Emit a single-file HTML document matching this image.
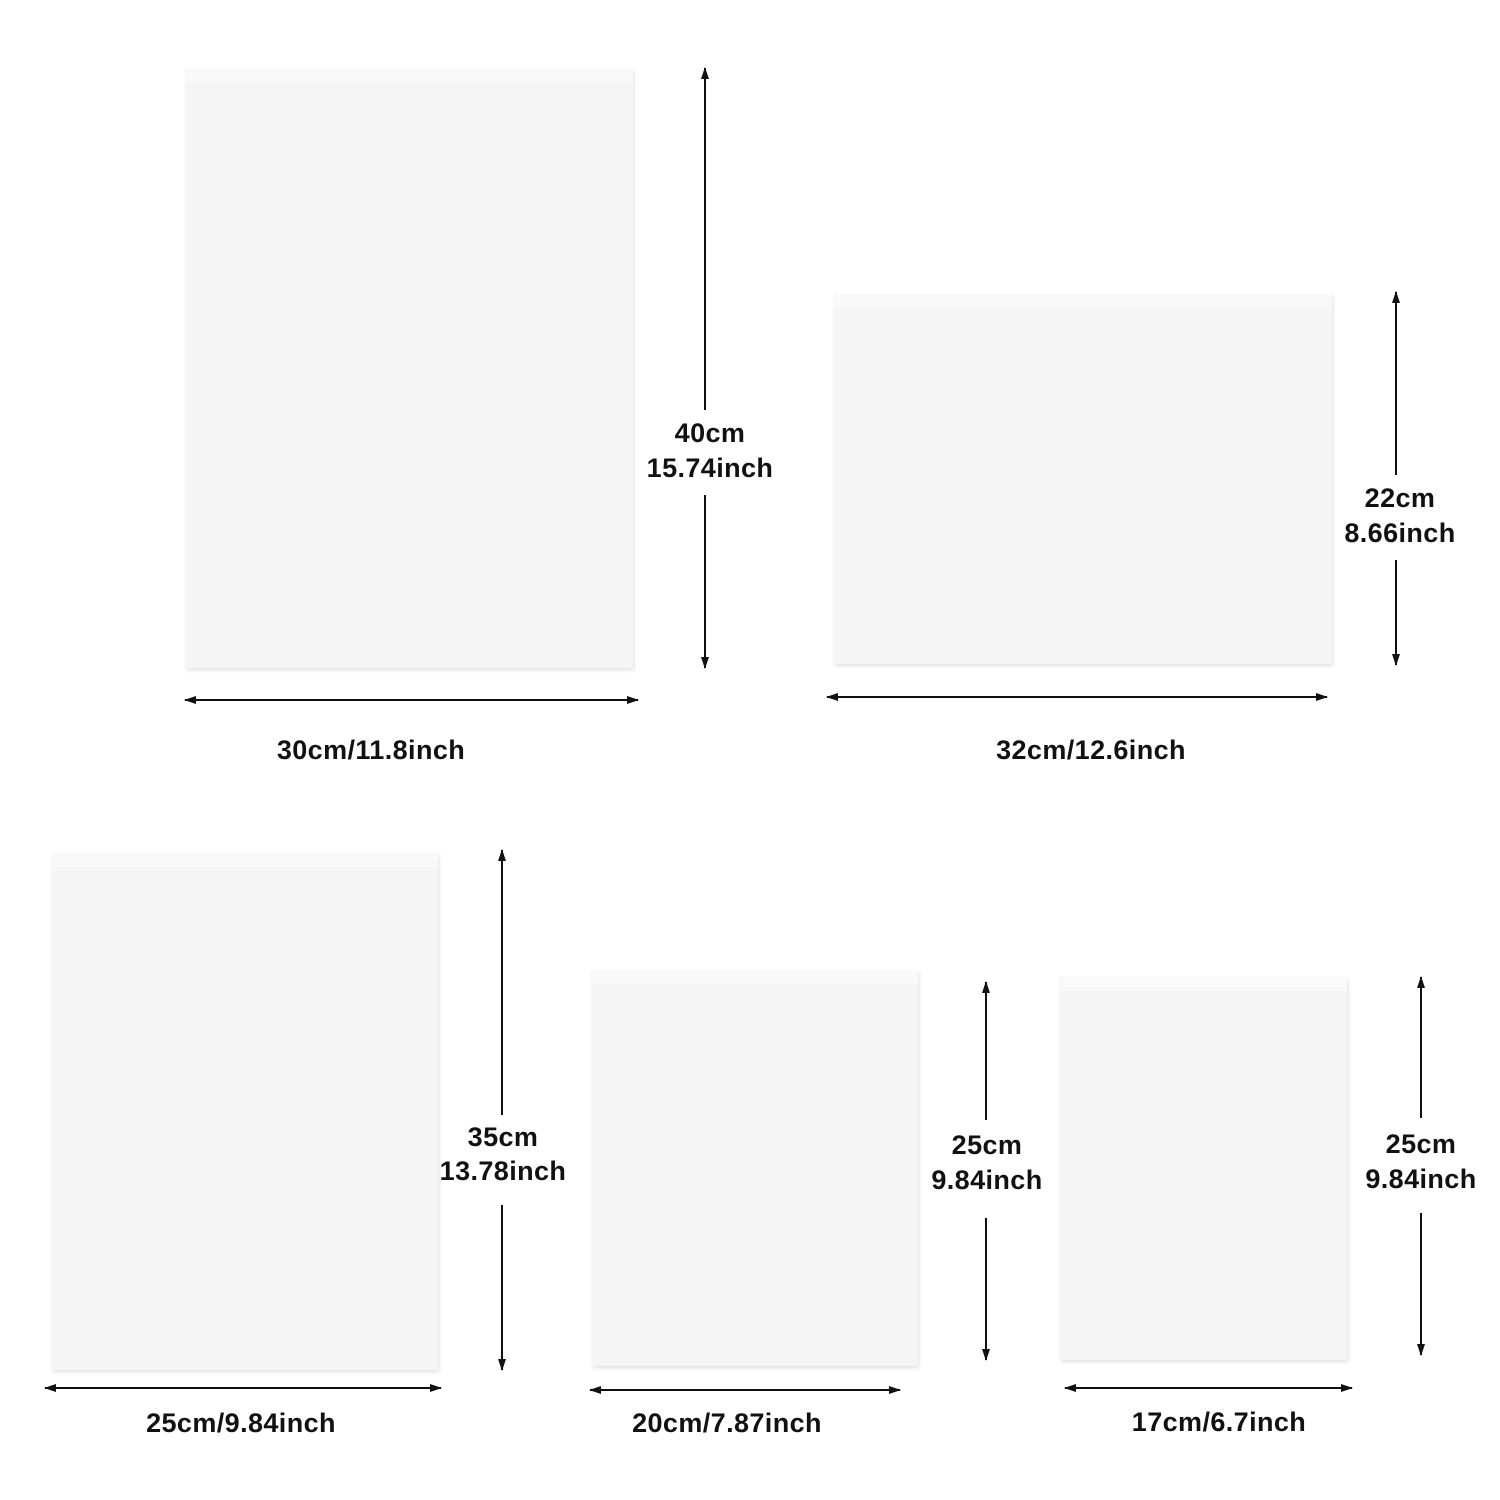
<!DOCTYPE html>
<html><head><meta charset="utf-8"><style>
html,body{margin:0;padding:0;background:#fff;width:1500px;height:1500px;overflow:hidden}
text{font-family:"Liberation Sans",sans-serif;font-weight:bold;font-size:27px;letter-spacing:0.4px;fill:#111;text-anchor:middle;dominant-baseline:central}
</style></head><body>
<svg width="1500" height="1500" viewBox="0 0 1500 1500" xmlns="http://www.w3.org/2000/svg">
<defs>
<filter id="sh" x="-5%" y="-5%" width="110%" height="110%"><feDropShadow dx="1" dy="2" stdDeviation="2" flood-color="#000" flood-opacity="0.12"/></filter>
<marker id="a" viewBox="0 0 12 8" refX="11" refY="4" markerWidth="12" markerHeight="8" markerUnits="userSpaceOnUse" orient="auto-start-reverse"><path d="M0,0 L12,4 L0,8 Z" fill="#111"/></marker>
</defs>
<g fill="#f5f5f5" filter="url(#sh)">
<rect x="186" y="68" width="447" height="600"/>
<rect x="834" y="294" width="498" height="370"/>
<rect x="52" y="853" width="386" height="517"/>
<rect x="592" y="970" width="326" height="396"/>
<rect x="1060" y="977" width="287" height="383"/>
</g>
<g fill="#f9f9f9">
<rect x="186" y="68" width="447" height="14"/>
<rect x="834" y="294" width="498" height="14"/>
<rect x="52" y="853" width="386" height="14"/>
<rect x="592" y="970" width="326" height="14"/>
<rect x="1060" y="977" width="287" height="14"/>
</g>
<g stroke="#111" stroke-width="2" marker-end="url(#a)" fill="none">
<path d="M705,410 V68"/><path d="M705,495 V668"/>
<path d="M1396,475 V292"/><path d="M1396,560 V665"/>
<path d="M502,1115 V850"/><path d="M502,1205 V1370"/>
<path d="M986,1120 V982"/><path d="M986,1218 V1360"/>
<path d="M1421,1118 V977"/><path d="M1421,1213 V1355"/>
</g>
<g stroke="#111" stroke-width="2" marker-start="url(#a)" marker-end="url(#a)" fill="none">
<path d="M185,700 H638"/>
<path d="M827,697 H1327"/>
<path d="M45,1388 H441"/>
<path d="M590,1390 H900"/>
<path d="M1065,1388 H1352"/>
</g>
<text x="710" y="433">40cm</text><text x="710" y="468">15.74inch</text>
<text x="1400" y="498">22cm</text><text x="1400" y="533">8.66inch</text>
<text x="371" y="750">30cm/11.8inch</text>
<text x="1091" y="750">32cm/12.6inch</text>
<text x="503" y="1137">35cm</text><text x="503" y="1171">13.78inch</text>
<text x="987" y="1145">25cm</text><text x="987" y="1180">9.84inch</text>
<text x="1421" y="1144">25cm</text><text x="1421" y="1179">9.84inch</text>
<text x="241" y="1423">25cm/9.84inch</text>
<text x="727" y="1423">20cm/7.87inch</text>
<text x="1219" y="1422">17cm/6.7inch</text>
</svg>
</body></html>
